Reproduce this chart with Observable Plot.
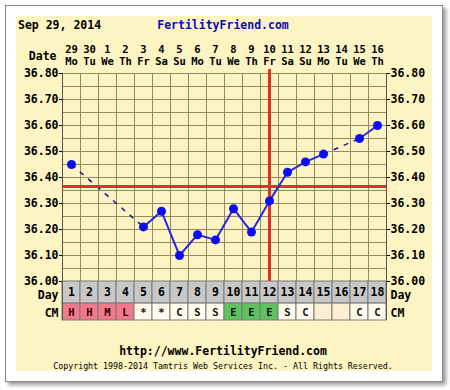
<!DOCTYPE html>
<html>
<head>
<meta charset="utf-8">
<script src="https://cdn.jsdelivr.net/npm/d3@7"></script>
<script src="https://cdn.jsdelivr.net/npm/@observablehq/plot@0.6"></script>
<style>
  html, body { margin:0; padding:0; background:#fff; }
  #wrap { position:relative; width:450px; height:390px; overflow:hidden; font-family:"DejaVu Sans Mono", monospace; }
  #frame { position:absolute; left:5px; top:5px; width:436px; height:375px; background:#fff; border:1px solid #8a8a8a; box-shadow:3px 3px 4px #9a9a9a; }
  #panel { position:absolute; left:16px; top:16px; width:416px; height:355px; background:#fdf4c4; }
  .t { position:absolute; white-space:nowrap; font-weight:bold; font-size:11.5px; line-height:1; }
  #chart { position:absolute; left:0; top:0; }
</style>
</head>
<body>
<div id="wrap">
  <div id="frame"></div>
  <div id="panel"></div>
  <div class="t" style="left:18px; top:20px;">Sep 29, 2014</div>
  <div class="t" style="left:0; width:446px; text-align:center; top:20px; color:#0a0ab8;">FertilityFriend.com</div>
  <div class="t" style="left:0; width:446px; text-align:center; top:346px;">http://www.FertilityFriend.com</div>
  <div class="t" style="left:0; width:446px; text-align:center; top:362px; font-weight:normal; font-size:8.3px;">Copyright 1998-2014 Tamtris Web Services Inc. - All Rights Reserved.</div>
  <div id="chart"></div>
</div>
<script>
const days = [1,2,3,4,5,6,7,8,9,10,11,12,13,14,15,16,17,18];
const dates = ["29","30","1","2","3","4","5","6","7","8","9","10","11","12","13","14","15","16"];
const weekdays = ["Mo","Tu","We","Th","Fr","Sa","Su","Mo","Tu","We","Th","Fr","Sa","Su","Mo","Tu","We","Th"];
const temps = [36.45, null, null, null, 36.21, 36.27, 36.10, 36.18, 36.16, 36.28, 36.19, 36.31, 36.42, 36.46, 36.49, null, 36.55, 36.60];
const cm = ["H","H","M","L","*","*","C","S","S","E","E","E","S","C","","","C","C"];
const yTicks = [36.00, 36.10, 36.20, 36.30, 36.40, 36.50, 36.60, 36.70, 36.80];
const coverline = 36.365;
const ovulationDay = 12;

const cmColor = c => (c === "H" || c === "M" || c === "L") ? "#f07a8c" : c === "E" ? "#5ec25e" : c === "" ? "#fcefd4" : "#fffbea";

const rows = days.map((d, i) => ({day: d, date: dates[i], wd: weekdays[i], temp: temps[i], cm: cm[i]}));
const pts = rows.filter(r => r.temp != null);
const gaps = [];
for (let i = 1; i < pts.length; i++) if (pts[i].day - pts[i-1].day > 1) gaps.push([pts[i-1], pts[i]]);

const gridY = d3.range(36.00, 36.801, 0.05);
const gridX = d3.range(0.5, 18.51, 1);
const F = {fontFamily: "DejaVu Sans Mono", fontWeight: "bold", fontSize: 11.5};
const dayTop = 36.00, dayBot = 35.915, cmBot = 35.85;

const chart = Plot.plot({
  width: 450, height: 390,
  marginLeft: 62, marginRight: 64, marginTop: 73, marginBottom: 70,
  x: {domain: [0.5, 18.5], axis: null},
  y: {domain: [35.85, 36.80], ticks: yTicks, tickFormat: d => d.toFixed(2), tickSize: 3, tickPadding: 1, axis: "both", label: null},
  style: {background: "transparent", color: "#000", fontFamily: "DejaVu Sans Mono", fontWeight: "bold", fontSize: "11.5px", overflow: "visible"},
  marks: [
    Plot.ruleY(gridY, {x1: 0.5, x2: 18.5, stroke: "#978a63", strokeOpacity: 1, strokeWidth: 1}),
    Plot.ruleX(gridX, {y1: 36.00, y2: 36.80, stroke: "#978a63", strokeWidth: 1}),
    Plot.rect(rows, {x1: d => d.day - 0.5, x2: d => d.day + 0.5, y1: dayBot, y2: dayTop, fill: "#c8c8c8", stroke: "#7a7a7a"}),
    Plot.rect(rows, {x1: d => d.day - 0.5, x2: d => d.day + 0.5, y1: cmBot, y2: dayBot, fill: d => cmColor(d.cm), stroke: "#7a7a7a"}),
    Plot.ruleX([0.5, 18.5], {y1: 35.85, y2: 36.80, stroke: "#555", strokeWidth: 1}),
    Plot.text(rows, {x: "day", y: (dayTop + dayBot) / 2, text: d => String(d.day), ...F}),
    Plot.text(rows, {x: "day", y: (dayBot + cmBot) / 2, dy: 1, text: "cm", fill: d => (d.cm === "H" || d.cm === "M" || d.cm === "L") ? "#300000" : "#111", ...F, fontSize: 10.5}),
    Plot.text(rows, {x: "day", y: 36.80, dy: -24, text: "date", ...F, fontSize: 10.5}),
    Plot.text(rows, {x: "day", y: 36.80, dy: -12, text: "wd", ...F, fontSize: 10.5}),
    Plot.text(["Date"], {x: 0.5, y: 36.80, dx: -6, dy: -17, text: d => d, textAnchor: "end", ...F}),
    Plot.text(["Day"], {x: 0.5, y: (dayTop + dayBot) / 2, dx: -4, dy: 3, text: d => d, textAnchor: "end", ...F}),
    Plot.text(["CM"], {x: 0.5, y: (dayBot + cmBot) / 2, dx: -4, dy: 1, text: d => d, textAnchor: "end", ...F}),
    Plot.text(["Day"], {x: 18.5, y: (dayTop + dayBot) / 2, dx: 4, dy: 3, text: d => d, textAnchor: "start", ...F}),
    Plot.text(["CM"], {x: 18.5, y: (dayBot + cmBot) / 2, dx: 4, dy: 1, text: d => d, textAnchor: "start", ...F}),
    Plot.ruleX([ovulationDay], {y1: 36.00, y2: 36.815, stroke: "#e0302c", strokeWidth: 3}),
    Plot.link(gaps, {x1: d => d[0].day, y1: d => d[0].temp, x2: d => d[1].day, y2: d => d[1].temp, stroke: "#14148c", strokeWidth: 1.5, strokeDasharray: "5,6"}),
    Plot.ruleY([coverline], {x1: 0.5, x2: 18.5, stroke: "#e0302c", strokeWidth: 3}),
    Plot.line(rows, {x: "day", y: "temp", stroke: "#2828e0", strokeWidth: 2}),
    Plot.dot(pts, {x: "day", y: "temp", r: 4.5, fill: "#0c0cf0", stroke: "none"})
  ]
});
document.getElementById("chart").appendChild(chart);
</script>
</body>
</html>
